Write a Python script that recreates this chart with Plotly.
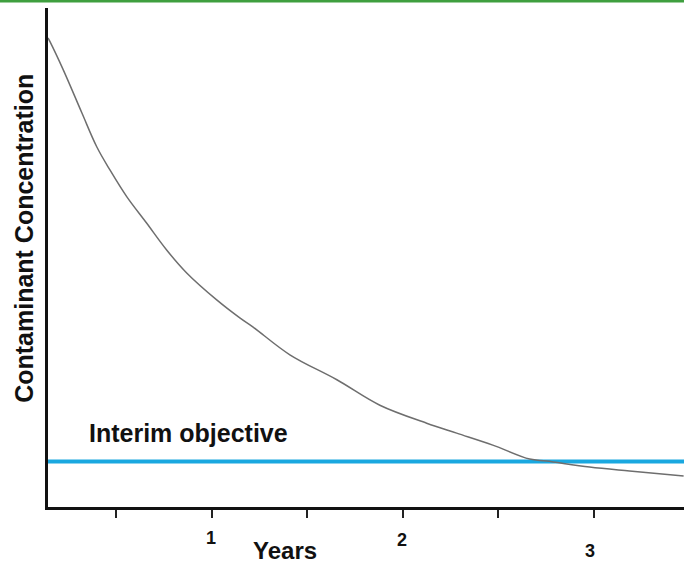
import plotly.graph_objects as go

# decay curve (years, relative concentration 0-100)
years = [0.142, 0.153, 0.222, 0.319, 0.397, 0.467, 0.554, 0.658, 0.763, 0.868,
         1.025, 1.146, 1.214, 1.408, 1.654, 1.879, 2.124, 2.281, 2.470, 2.663,
         2.752, 2.977, 3.186, 3.469]
concentration = [94.0, 93.2, 87.6, 79.0, 72.2, 67.5, 62.2, 56.9, 51.5, 46.9,
                 41.5, 37.9, 36.1, 30.5, 25.5, 20.4, 16.8, 14.8, 12.4, 9.6,
                 9.2, 8.0, 7.2, 6.2]
objective_level = 9.1
x_range = [0.142, 3.471]
tick_vals = [0.5, 1.0, 1.5, 2.0, 2.5, 3.0]
year_labels = ['1', '2', '3']
year_label_x = [0.997, 1.997, 2.981]
year_label_y = [-0.063, -0.066, -0.088]  # labels sit at slightly different heights

FONT = 'Liberation Sans, Arial, sans-serif'

fig = go.Figure()
fig.add_trace(go.Scatter(x=x_range, y=[objective_level, objective_level], mode='lines',
                         line=dict(color='#1aa8e0', width=4), hoverinfo='skip'))
fig.add_trace(go.Scatter(x=years, y=concentration, mode='lines',
                         line=dict(color='#6e6e6e', width=1.5, shape='spline'), hoverinfo='skip'))

for lab, xv, yv in zip(year_labels, year_label_x, year_label_y):
    fig.add_annotation(x=xv, y=yv, xref='x', yref='paper', text='<b>%s</b>' % lab,
                       xanchor='center', yanchor='middle',
                       showarrow=False, font=dict(family=FONT, size=18, color='#111'))

fig.add_annotation(x=1.38, y=-0.087, xref='x', yref='paper', text='<b>Years</b>',
                   xanchor='center', yanchor='middle',
                   showarrow=False, font=dict(family=FONT, size=24, color='#111'))
fig.add_annotation(x=-0.038, y=0.539, xref='paper', yref='paper', textangle=-90,
                   xanchor='center', yanchor='middle',
                   text='<b>Contaminant Concentration</b>', showarrow=False,
                   font=dict(family=FONT, size=25, color='#111'))
fig.add_annotation(x=0.347, y=14.8, xref='x', yref='y', xanchor='left', yanchor='middle',
                   text='<b>Interim objective</b>', showarrow=False,
                   font=dict(family=FONT, size=25, color='#111'))

# green strip across the very top
fig.add_shape(type='rect', xref='paper', yref='paper', x0=-0.08, x1=1.0, y0=1.011, y1=1.017,
              fillcolor='#3f9f3f', line=dict(width=0))

fig.update_layout(
    width=684, height=567,
    margin=dict(l=48, r=0, t=8, b=60),
    paper_bgcolor='white', plot_bgcolor='white',
    showlegend=False,
    xaxis=dict(range=x_range, showgrid=False, zeroline=False, showline=True,
               linecolor='#111', linewidth=3, ticks='outside', ticklen=8, tickwidth=1.5,
               tickcolor='#222', tickvals=tick_vals, ticktext=[''] * len(tick_vals)),
    yaxis=dict(range=[0, 100], showgrid=False, zeroline=False, showline=True,
               linecolor='#111', linewidth=3, showticklabels=False, ticks=''),
)

# page body has an 8px default margin; drop it so the figure sits at the window corner
fig.write_html("out.html", config={'displayModeBar': False},
               post_script="document.body.style.margin='0';document.body.style.overflow='hidden';")
